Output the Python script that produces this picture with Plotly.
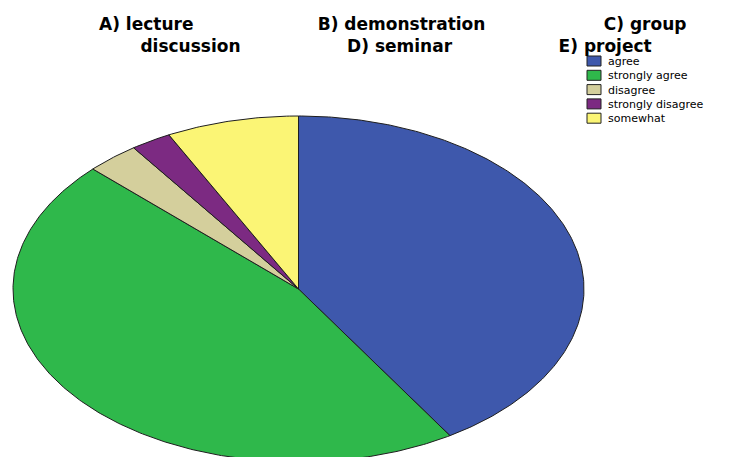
import numpy as np
import plotly.graph_objects as go

# ---- data ----
categories = ["agree", "strongly agree", "disagree", "strongly disagree", "somewhat"]
values = [41.1, 46.1, 3.0, 2.3, 7.5]
colors = ["#3e58ac", "#2fb84b", "#d4cf9c", "#7c2a82", "#fbf575"]
title_line1 = ["A) lecture", "B) demonstration", "C) group"]
title_line2 = ["discussion", "D) seminar", "E) project"]

# ---- layout constants (pixel space) ----
W, H = 755, 457
cx, cy, rx, ry = 298.5, 289.0, 285.5, 173.0
NB = "\u00a0"
gaps1 = [21, 20]        # non-breaking-space gaps between title words, line 1
gaps2 = [18, 18]        # line 2
indent2 = 7             # leading indent of line 2
title_x, title_y = 97, 35
leg_x0, leg_y0, leg_dy = 587, 61, 14.3

fig = go.Figure()

total = float(sum(values))
start = 0.0
for cat, v, c in zip(categories, values, colors):
    a0 = start / total * 2 * np.pi
    a1 = (start + v) / total * 2 * np.pi
    t = np.linspace(a0, a1, max(int(v * 6), 10))
    xs = [cx] + list(cx + rx * np.sin(t)) + [cx]
    ys = [cy] + list(cy - ry * np.cos(t)) + [cy]
    fig.add_trace(go.Scatter(
        x=xs, y=ys, mode="lines", fill="toself", fillcolor=c,
        line=dict(color="#1e1e1e", width=1),
        name=cat, showlegend=False, hoverinfo="text",
        text=f"{cat}: {v}%",
    ))
    start += v

# title (one text block, two lines)
line1 = title_line1[0] + NB * gaps1[0] + title_line1[1] + NB * gaps1[1] + title_line1[2]
line2 = NB * indent2 + title_line2[0] + NB * gaps2[0] + title_line2[1] + NB * gaps2[1] + title_line2[2]
fig.add_annotation(x=title_x, y=title_y, text=line1 + "<br>" + line2, showarrow=False,
                   xanchor="left", yanchor="middle", align="left",
                   font=dict(family="DejaVu Sans", size=17, color="#000", weight="bold"))

# legend (boxes + one text block)
for i, c in enumerate(colors):
    yc = leg_y0 + i * leg_dy
    fig.add_shape(type="rect", x0=leg_x0, x1=leg_x0 + 14, y0=yc - 5, y1=yc + 5,
                  fillcolor=c, line=dict(color="#222", width=1))
fig.add_annotation(x=leg_x0 + 19, y=leg_y0 + 2 * leg_dy, text="<br>".join(categories),
                   showarrow=False, xanchor="left", yanchor="middle", align="left",
                   font=dict(family="DejaVu Sans", size=11, color="#000"))

fig.update_layout(
    width=W, height=H, margin=dict(l=0, r=0, t=0, b=0),
    paper_bgcolor="white", plot_bgcolor="white",
    xaxis=dict(range=[0, W], visible=False, fixedrange=True),
    yaxis=dict(range=[H, 0], visible=False, fixedrange=True),
    showlegend=False,
)

fig.write_html("out.html")
